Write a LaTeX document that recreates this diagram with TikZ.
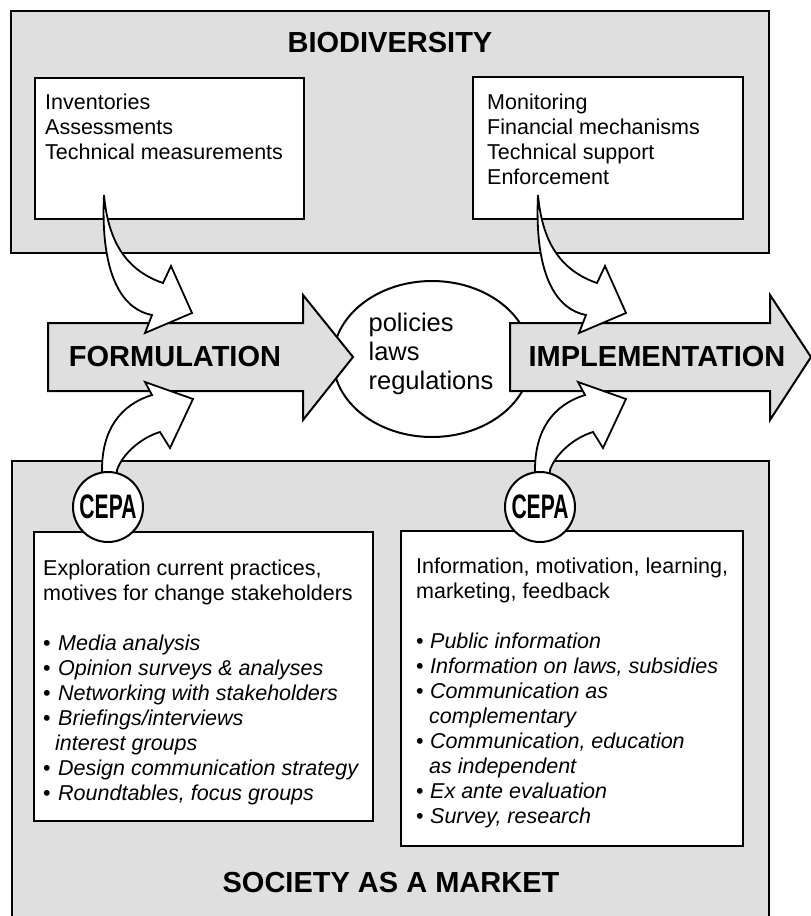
\documentclass[tikz,border=0pt]{standalone}
\usepackage{fontspec}
\setmainfont{Liberation Sans}
\usetikzlibrary{shapes.geometric}
\definecolor{panelgray}{HTML}{DFDFDF}
\begin{document}
\begin{tikzpicture}[x=1pt,y=-1pt,
  graybox/.style={draw, line width=2pt, fill=panelgray, inner sep=0pt, anchor=north west},
  whitebox/.style={draw, line width=2pt, fill=white, inner sep=0pt, anchor=north west},
  bigarrow/.style={draw, line width=2pt, fill=panelgray, line join=miter},
  curvearrow/.style={draw, line width=1.8pt, fill=white, line join=miter},
  heading/.style={font=\fontsize{29}{34}\selectfont\bfseries, inner sep=0pt},
  bodytext/.style={font=\fontsize{21.5}{25}\selectfont, align=left, inner sep=0pt, anchor=north west},
  cepa/.style={circle, draw, line width=2pt, fill=white, minimum size=70pt, inner sep=0pt, font=\fontsize{34}{34}\selectfont\bfseries}]
\useasboundingbox (0,0) rectangle (811,916);
\clip (0,0) rectangle (811,916);

% panels
\node[graybox, minimum width=758pt, minimum height=242pt] (bio) at (10,10) {};
\node[graybox, minimum width=757pt, minimum height=470pt] (society) at (11,460) {};

% policies ellipse
\node[draw, ellipse, line width=2pt, fill=white, minimum width=198pt, minimum height=156pt] (policy) at (432,359) {};

% big arrows
\draw[bigarrow] (48,323) -- (303,323) -- (303,295) -- (353,357) -- (303,420) -- (303,391) -- (48,391) -- cycle;
\draw[bigarrow] (510,323) -- (770,323) -- (770,295) -- (811,357) -- (770,420) -- (770,391) -- (510,391) -- cycle;
\node[heading] (formulation) at (175,357) {FORMULATION};
\node[heading] (implementation) at (657,357) {IMPLEMENTATION};

% white boxes
\node[whitebox, minimum width=269pt, minimum height=141pt] (tlbox) at (34,77) {};
\node[whitebox, minimum width=270pt, minimum height=142pt] (trbox) at (472,76) {};
\node[whitebox, minimum width=339pt, minimum height=289pt] (blbox) at (33,531) {};
\node[whitebox, minimum width=342pt, minimum height=315pt] (brbox) at (400,530) {};

% curved arrows from the biodiversity boxes
\foreach \dx in {0,434}{
  \begin{scope}[xshift=\dx pt]
    \draw[curvearrow] (104,195) .. controls (100,280) and (125,310) .. (152,315)
      -- (145,333) -- (192,313) -- (171,266) -- (163,283)
      .. controls (125,270) and (108,240) .. (104,195) -- cycle;
  \end{scope}
}
% curved arrows from CEPA
\foreach \dx in {0,433}{
  \begin{scope}[xshift=\dx pt]
    \draw[curvearrow] (102,482) -- (102,470) .. controls (102,430) and (120,405) .. (152,395)
      -- (145,382) -- (193,399) -- (170,448) -- (160,432)
      .. controls (140,438) and (122,455) .. (117,470) -- (117,482) -- cycle;
  \end{scope}
}

% CEPA circles
\node[cepa] (cepaL) at (108,507) {\scalebox{0.62}[1]{CEPA}};
\node[cepa] (cepaR) at (540,507) {\scalebox{0.62}[1]{CEPA}};

% texts
\node[heading] (biotitle) at (390,43) {BIODIVERSITY};
\node[heading] (soctitle) at (391,883) {SOCIETY AS A MARKET};

\node[bodytext] (tltext) at (45,94) {Inventories\\Assessments\\Technical measurements};
\node[bodytext] (trtext) at (487,94) {Monitoring\\Financial mechanisms\\Technical support\\Enforcement};

\node[font=\fontsize{25.5}{29}\selectfont, align=left, inner sep=0pt] (policytext) at (431,354) {policies\\laws\\regulations};

\node[bodytext] (bltext) at (43,560) {Exploration current practices,\\
motives for change stakeholders\\[25pt]
\makebox[15pt][l]{•}\textit{Media analysis}\\
\makebox[15pt][l]{•}\textit{Opinion surveys \& analyses}\\
\makebox[15pt][l]{•}\textit{Networking with stakeholders}\\
\makebox[15pt][l]{•}\textit{Briefings/interviews}\\
\hspace*{12pt}\textit{interest groups}\\
\makebox[15pt][l]{•}\textit{Design communication strategy}\\
\makebox[15pt][l]{•}\textit{Roundtables, focus groups}};

\node[bodytext] (brtext) at (416,558) {Information, motivation, learning,\\
marketing, feedback\\[25pt]
\makebox[14pt][l]{•}\textit{Public information}\\
\makebox[14pt][l]{•}\textit{Information on laws, subsidies}\\
\makebox[14pt][l]{•}\textit{Communication as}\\
\hspace*{13pt}\textit{complementary}\\
\makebox[14pt][l]{•}\textit{Communication, education}\\
\hspace*{13pt}\textit{as independent}\\
\makebox[14pt][l]{•}\textit{Ex ante evaluation}\\
\makebox[14pt][l]{•}\textit{Survey, research}};
\end{tikzpicture}
\end{document}
